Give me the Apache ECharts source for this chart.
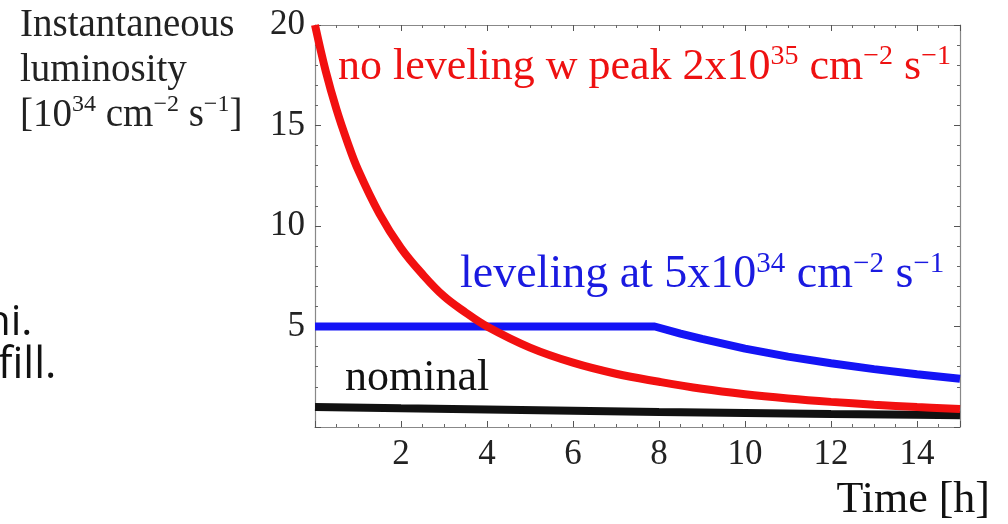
<!DOCTYPE html>
<html>
<head>
<meta charset="utf-8">
<script src="https://cdn.jsdelivr.net/npm/echarts@6/dist/echarts.min.js"></script>
<style>
html,body{margin:0;padding:0;background:#fff;}
#chart{width:1008px;height:524px;}
</style>
</head>
<body>
<div id="chart"></div>
<script>
// ---- data ----
var redTime   = [0, 0.25, 0.5, 0.75, 1, 1.5, 2, 2.5, 3, 3.5, 4, 5, 6, 7, 8, 9, 10, 11, 12, 13, 14, 15];
var redLumi   = [20, 17.7, 15.8, 14.2, 12.8, 10.6, 8.9, 7.6, 6.5, 5.7, 5.0, 3.95, 3.2, 2.65, 2.25, 1.9, 1.63, 1.42, 1.25, 1.11, 0.99, 0.89];
var blueTime  = [0, 7.9, 8.5, 9, 10, 11, 12, 13, 14, 15];
var blueLumi  = [5, 5, 4.65, 4.38, 3.9, 3.5, 3.17, 2.88, 2.62, 2.4];
var blackTime = [0, 2, 4, 6, 8, 10, 12, 14, 15];
var blackLumi = [1.0, 0.93, 0.87, 0.81, 0.75, 0.7, 0.65, 0.61, 0.58];
var xTicks = [2, 4, 6, 8, 10, 12, 14];
var yTicks = [5, 10, 15, 20];

function pairs(xs, ys) { return xs.map(function (x, i) { return [x, ys[i]]; }); }

var serif = '"Liberation Serif", "DejaVu Serif", serif';
var sans = '"Open Sans", "Liberation Sans", sans-serif';
var chart = echarts.init(document.getElementById('chart'), null, {renderer: 'canvas'});

var tickLine = {show: true, inside: true, length: 6, lineStyle: {color: '#555', width: 1}};
var minorLine = {show: true, length: 3, lineStyle: {color: '#666', width: 1}};
var axisLineStyle = {show: true, onZero: false, lineStyle: {color: '#888', width: 1.2}};

function supRich(color, size, supSize, lh) {
  return {
    n: {fontFamily: serif, fontSize: size, fill: color, lineHeight: lh},
    s: {fontFamily: serif, fontSize: supSize, fill: color, verticalAlign: 'top', lineHeight: lh}
  };
}

var option = {
  animation: false,
  backgroundColor: '#fff',
  grid: {left: 315, right: 48, top: 25, bottom: 97},
  xAxis: [{
    type: 'value', min: 0, max: 15, interval: 2,
    axisLine: axisLineStyle, axisTick: tickLine,
    minorTick: Object.assign({splitNumber: 4}, minorLine),
    splitLine: {show: false},
    axisLabel: {
      fontFamily: serif, fontSize: 35, color: '#222', margin: 10,
      formatter: function (v) { return xTicks.indexOf(v) >= 0 ? String(v) : ''; }
    }
  }, {
    type: 'value', min: 0, max: 15, interval: 2, position: 'top',
    axisLine: axisLineStyle, axisTick: tickLine,
    minorTick: Object.assign({splitNumber: 4}, minorLine),
    splitLine: {show: false}, axisLabel: {show: false}
  }],
  yAxis: [{
    type: 'value', min: 0, max: 20, interval: 5,
    axisLine: axisLineStyle, axisTick: tickLine,
    minorTick: Object.assign({splitNumber: 5}, minorLine),
    splitLine: {show: false},
    axisLabel: {
      fontFamily: serif, fontSize: 35, color: '#222', margin: 10,
      formatter: function (v) { return yTicks.indexOf(v) >= 0 ? String(v) : ''; }
    }
  }, {
    type: 'value', min: 0, max: 20, interval: 5, position: 'right',
    axisLine: axisLineStyle, axisTick: tickLine,
    minorTick: Object.assign({splitNumber: 5}, minorLine),
    splitLine: {show: false}, axisLabel: {show: false}
  }],
  series: [{
    name: 'nominal', type: 'line', data: pairs(blackTime, blackLumi),
    showSymbol: false, clip: false,
    lineStyle: {color: '#111', width: 8}
  }, {
    name: 'leveling', type: 'line', data: pairs(blueTime, blueLumi),
    showSymbol: false, smooth: false, clip: false,
    lineStyle: {color: '#1414f5', width: 8}
  }, {
    name: 'no leveling', type: 'line', data: pairs(redTime, redLumi),
    showSymbol: false, smooth: 0.4, clip: false,
    lineStyle: {color: '#f21010', width: 8}
  }],
  graphic: [
    {type: 'text', left: 20, top: 6, style: {
      text: '{n|Instantaneous}\n{n|luminosity}\n{n|[10}{s|34}{n| cm}{s|−2}{n| s}{s|−1}{n|]}',
      rich: supRich('#222', 39, 24, 45)
    }},
    {type: 'text', left: 338, top: 43, style: {
      text: '{n|no leveling w peak 2x10}{s|35}{n| cm}{s|−2}{n| s}{s|−1}',
      rich: supRich('#ee1111', 44, 28, 48)
    }},
    {type: 'text', left: 460, top: 250, style: {
      text: '{n|leveling at 5x10}{s|34}{n| cm}{s|−2}{n| s}{s|−1}',
      rich: supRich('#1a1ae0', 46, 29, 50)
    }},
    {type: 'text', left: 345, top: 356, style: {
      text: 'nominal', font: '44px ' + serif, fill: '#111'
    }},
    {type: 'text', right: 18, top: 478, style: {
      text: 'Time [h]', font: '44px ' + serif, fill: '#111'
    }},
    {type: 'text', left: -15, top: 302, style: {
      text: 'hi.', font: '42px ' + sans, fill: '#111'
    }},
    {type: 'text', left: -2, top: 344, style: {
      text: 'fill.', font: '43px ' + sans, fill: '#111'
    }}
  ]
};
chart.setOption(option);
</script>
</body>
</html>
